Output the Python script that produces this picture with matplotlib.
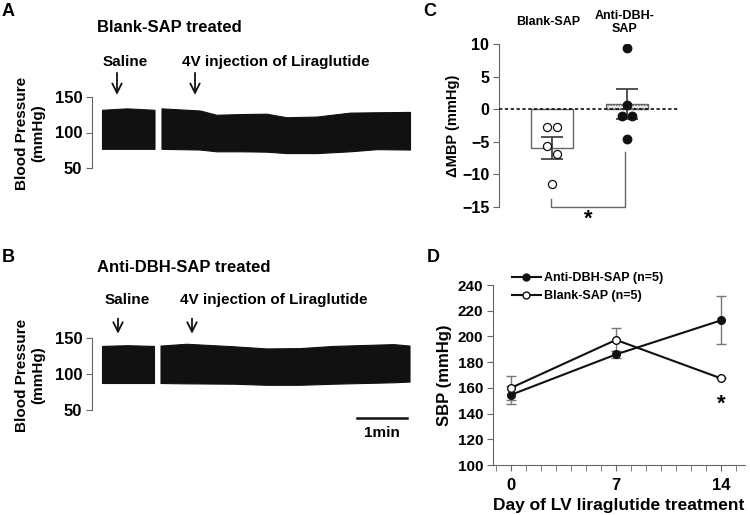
"""Blood pressure response to liraglutide: traces (A, B), delta MBP (C), SBP over days (D)."""
import matplotlib
matplotlib.use("Agg")
import matplotlib.pyplot as plt
from matplotlib.lines import Line2D
from matplotlib.ticker import FixedLocator, NullFormatter

plt.rcParams.update({
    "font.family": ["Liberation Sans", "DejaVu Sans"],
    "font.weight": "bold",
    "axes.labelweight": "bold",
    "hatch.linewidth": 0.8,
})

W, H = 750, 515
INK = "#111111"
GREY = "#666666"

# --- panel A / B: pressure trace envelopes (time in min, mmHg) ---
A_SEG1_T = [0.0, 0.5, 1.05]
A_SEG1_HI = [132, 134, 132]
A_SEG1_LO = [77, 77, 77]
A_SEG2_T = [1.19, 1.96, 2.29, 2.8, 3.29, 3.69, 4.3, 4.96, 5.49, 6.16]
A_SEG2_HI = [134, 131, 125, 126, 126.5, 121.5, 122.5, 128, 128.5, 129]
A_SEG2_LO = [77, 76, 73.5, 73.5, 73, 71, 71, 73.5, 76.5, 76]

B_SEG1_T = [0.0, 0.5, 1.04]
B_SEG1_HI = [139, 140, 139]
B_SEG1_LO = [87.5, 87.5, 87.5]
B_SEG2_T = [1.17, 1.69, 2.63, 3.29, 3.96, 4.63, 5.83, 6.15]
B_SEG2_HI = [139.5, 142, 138.5, 135.5, 136, 139, 141.5, 139.5]
B_SEG2_LO = [87.5, 87, 86.5, 85, 85, 86.5, 88.5, 89.5]

INJ_A = [0.3, 1.86]   # saline, liraglutide
INJ_B = [0.32, 1.8]
INJ_LABELS = ["Saline", "4V injection of Liraglutide"]
BP_TICKS = [50, 100, 150]

# --- panel C: change in MBP ---
C_GROUPS = ["Blank-SAP", "Anti-DBH-\nSAP"]
C_MEAN = [-5.9, 0.75]
C_SEM = [1.7, 2.3]
C_BLANK_PTS = [-2.7, -2.7, -5.6, -6.8, -11.5]
C_BLANK_DX = [-0.07, 0.065, -0.07, 0.065, 0.0]
C_ANTI_PTS = [9.35, 0.7, -1.0, -1.0, -4.5]
C_ANTI_DX = [0.0, 0.0, -0.07, 0.07, 0.0]
C_TICKS = [-15, -10, -5, 0, 5, 10]

# --- panel D: SBP over LV liraglutide treatment ---
D_DAYS = [0, 7, 14]
D_ANTI = [154.6, 186.0, 212.5]
D_ANTI_SEM = [6.9, 2.6, 18.7]
D_BLANK = [160.0, 197.3, 167.4]
D_BLANK_SEM = [9.3, 9.0, 0.0]
D_YTICKS = [100, 120, 140, 160, 180, 200, 220, 240]


def rect(left, top, right, bottom):
    return [left / W, 1 - bottom / H, (right - left) / W, (bottom - top) / H]


def ftext(fig, x, y, s, **kw):
    fig.text(x / W, 1 - y / H, s, **kw)


def draw_trace(ax, segs, inj, arrow_top, arrow_bot, text_y, text_x):
    for t, hi, lo in segs:
        ax.fill_between(t, lo, hi, color=INK, lw=0.8, edgecolor=INK)
    for t in inj:
        ax.annotate("", xy=(t, arrow_bot), xytext=(t, arrow_top),
                    arrowprops=dict(arrowstyle="->", lw=1.3, color=INK,
                                    mutation_scale=17, shrinkA=0, shrinkB=0),
                    annotation_clip=False)
    for x, s in zip(text_x, INJ_LABELS):
        ax.text(x, text_y, s, fontsize=11, ha="left", va="center", clip_on=False)
    ax.set_xlim(-0.2, 6.2)
    ax.set_ylim(50, 150)
    ax.set_yticks(BP_TICKS)
    for side in ("top", "right", "bottom"):
        ax.spines[side].set_visible(False)
    ax.spines["left"].set_color(GREY)
    ax.tick_params(axis="y", length=4, color=GREY, labelsize=12, pad=3)
    ax.set_xticks([])


fig = plt.figure(figsize=(W / 100, H / 100), dpi=100)

# A
axA = fig.add_axes(rect(92, 97, 412, 168))
draw_trace(axA, [(A_SEG1_T, A_SEG1_HI, A_SEG1_LO), (A_SEG2_T, A_SEG2_HI, A_SEG2_LO)],
           INJ_A, 184, 153, 199, [0.02, 1.6])
ftext(fig, 2, 11, "A", fontsize=13, va="center")
ftext(fig, 97, 28, "Blank-SAP treated", fontsize=12, va="center")
ftext(fig, 30, 133, "Blood Pressure\n(mmHg)", fontsize=11, rotation=90,
      ha="center", va="center", linespacing=1.25)

# B
axB = fig.add_axes(rect(92, 338, 412, 410))
draw_trace(axB, [(B_SEG1_T, B_SEG1_HI, B_SEG1_LO), (B_SEG2_T, B_SEG2_HI, B_SEG2_LO)],
           INJ_B, 177, 156, 203, [0.06, 1.56])
bar_end = B_SEG2_T[-1] - 0.05
axB.plot([bar_end - 1.0, bar_end], [39, 39], color=INK, lw=1.8, clip_on=False)
axB.text(bar_end - 0.5, 18, "1min", fontsize=11, ha="center", va="center")
ftext(fig, 2, 258, "B", fontsize=13, va="center")
ftext(fig, 97, 268, "Anti-DBH-SAP treated", fontsize=12, va="center")
ftext(fig, 30, 375, "Blood Pressure\n(mmHg)", fontsize=11, rotation=90,
      ha="center", va="center", linespacing=1.25)

# C
axC = fig.add_axes(rect(499, 44, 678, 207))
xs = [1, 2]
axC.bar(xs[0], C_MEAN[0], width=0.57, color="white", edgecolor=GREY, lw=1.0, zorder=2)
axC.bar(xs[1], C_MEAN[1], width=0.57, color="white", edgecolor=GREY, lw=1.0,
        hatch="......", zorder=2)
axC.errorbar(xs, C_MEAN, yerr=C_SEM, fmt="none", ecolor="#444444", elinewidth=1.3,
             capsize=8, capthick=1.3, zorder=3)
axC.axhline(0, color=INK, lw=1.2, ls=(0, (2, 1.5)), zorder=4)
axC.scatter([xs[0] + d for d in C_BLANK_DX], C_BLANK_PTS, s=34, facecolor="white",
            edgecolor=INK, lw=0.9, zorder=5)
axC.scatter([xs[1] + d for d in C_ANTI_DX], C_ANTI_PTS, s=38, facecolor=INK,
            edgecolor=INK, lw=0.9, zorder=5)
# significance bracket
br_y = C_TICKS[0]
axC.plot([xs[0] - 0.01, xs[0] - 0.01, xs[1] - 0.03, xs[1] - 0.03],
         [min(C_BLANK_PTS) - 2.3, br_y, br_y, min(C_ANTI_PTS) - 2.1],
         color=GREY, lw=1.0, clip_on=False)
axC.text(1.49, br_y - 1.9, "*", fontsize=16, ha="center", va="center", clip_on=False)
for x, s in zip(xs, C_GROUPS):
    axC.text(x - 0.05 if x == 1 else x - 0.03, 13.3, s, fontsize=9, ha="center",
             va="center", linespacing=1.2, clip_on=False)
axC.set_xlim(0.293, 2.68)
axC.set_ylim(-15, 10)
axC.set_yticks(C_TICKS)
axC.set_xticks([])
for side in ("top", "right", "bottom"):
    axC.spines[side].set_visible(False)
axC.spines["left"].set_color(GREY)
axC.tick_params(axis="y", length=4, color=GREY, labelsize=11.5, pad=3)
ftext(fig, 423, 11, "C", fontsize=13, va="center")
ftext(fig, 453, 126, "\u0394MBP (mmHg)", fontsize=10.5, rotation=90,
      ha="center", va="center")

# D
axD = fig.add_axes(rect(493, 285, 745, 465))
axD.errorbar(D_DAYS, D_ANTI, yerr=D_ANTI_SEM, fmt="none", ecolor="#777777",
             elinewidth=1.0, capsize=3.5, capthick=1.0, zorder=2)
axD.errorbar(D_DAYS, D_BLANK, yerr=D_BLANK_SEM, fmt="none", ecolor="#777777",
             elinewidth=1.0, capsize=3.5, capthick=1.0, zorder=2)
axD.plot(D_DAYS, D_ANTI, "-o", color=INK, lw=1.5, ms=5.5, mfc=INK, mec=INK, zorder=3)
axD.plot(D_DAYS, D_BLANK, "-o", color=INK, lw=1.5, ms=5.5, mfc="white", mec=INK,
         mew=1.0, zorder=4)
axD.text(D_DAYS[2], D_BLANK[2] - 20, "*", fontsize=16, ha="center", va="center")
handles = [
    Line2D([], [], color=INK, lw=1.5, marker="o", ms=5, mfc=INK, mec=INK),
    Line2D([], [], color=INK, lw=1.5, marker="o", ms=5, mfc="white", mec=INK),
]
axD.legend(handles, ["Anti-DBH-SAP (n=5)", "Blank-SAP (n=5)"], loc="upper left",
           bbox_to_anchor=(0.075, 1.07), frameon=False, fontsize=9,
           handlelength=2.3, handletextpad=0.3, labelspacing=0.45,
           borderpad=0, borderaxespad=0)
axD.set_xlim(-1.2, 15.6)
axD.set_ylim(100, 240)
axD.set_xticks(D_DAYS)
axD.xaxis.set_minor_locator(FixedLocator([d for d in range(-1, 16) if d not in D_DAYS]))
axD.xaxis.set_minor_formatter(NullFormatter())
axD.set_yticks(D_YTICKS)
for side in ("top", "right"):
    axD.spines[side].set_visible(False)
axD.spines["left"].set_color(GREY)
axD.spines["bottom"].set_color(GREY)
axD.tick_params(axis="both", which="both", length=4, color=GREY, pad=3)
axD.tick_params(axis="y", labelsize=11)
axD.tick_params(axis="x", labelsize=12, pad=5)
axD.set_xlabel("Day of LV liraglutide treatment", fontsize=12.5, labelpad=4)
axD.set_ylabel("SBP (mmHg)", fontsize=12, labelpad=4)
ftext(fig, 427, 257, "D", fontsize=13, va="center")

fig.savefig("out.png", dpi=100)
